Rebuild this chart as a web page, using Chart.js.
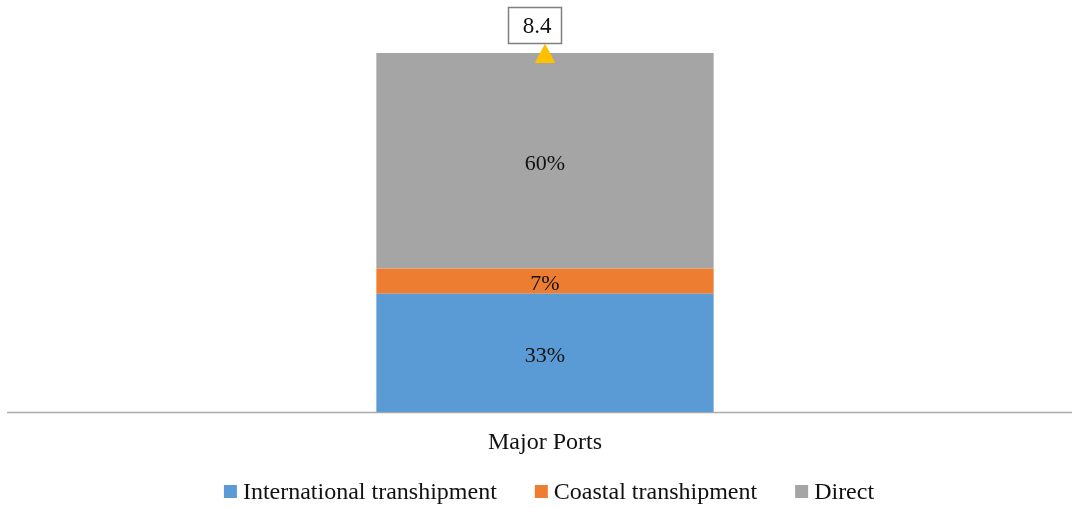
<!DOCTYPE html>
<html>
<head>
<meta charset="utf-8">
<script src="https://cdn.jsdelivr.net/npm/chart.js@4.4.1/dist/chart.umd.min.js"></script>
<style>
  html, body { margin: 0; padding: 0; background: #fff; }
  canvas { display: block; }
</style>
</head>
<body>
<canvas id="chart" width="1072" height="508"></canvas>
<script>
// data
const categories = ['Major Ports'];
const seriesNames = ['International transhipment', 'Coastal transhipment', 'Direct'];
const shares = [33, 7, 60];          // percent of total
const totalValue = [8.4];            // total shown above the bar
const seriesColors = ['#5B9BD5', '#ED7D31', '#A5A5A5'];

const FONT = '"Liberation Serif", "Times New Roman", serif';

// triangle marker whose bounding box is centred on the value (like Excel)
function triangleMarker(w, h, color) {
    const c = document.createElement('canvas');
    c.width = w; c.height = h;
    const g = c.getContext('2d');
    g.fillStyle = color;
    g.beginPath();
    g.moveTo(w / 2, 0);
    g.lineTo(w, h);
    g.lineTo(0, h);
    g.closePath();
    g.fill();
    return c;
}

// stacked segments in absolute units, labelled by share
const barSets = seriesNames.map((name, i) => ({
    type: 'bar',
    label: name,
    data: [shares[i] * totalValue[0] / 100],
    backgroundColor: seriesColors[i],
    borderWidth: 0,
    stack: 'main',
    share: shares[i],
    categoryPercentage: 1,
    barPercentage: 0.32
}));

const totalSet = {
    type: 'line',
    label: 'Total',
    data: totalValue,
    stack: 'total',
    order: -1,
    clip: false,
    showLine: false,
    pointStyle: triangleMarker(20, 19, '#FFC000'),
    pointRadius: 10
};

// axis line runs a bit further left than the plot area, as in the original
const baselinePlugin = {
    id: 'baseline',
    beforeDatasetsDraw(chart) {
        const ctx = chart.ctx;
        const y = Math.round(chart.scales.y.getPixelForValue(0)) + 0.5;
        ctx.save();
        ctx.strokeStyle = '#ABABAB';
        ctx.lineWidth = 1.5;
        ctx.beginPath();
        ctx.moveTo(7, y);
        ctx.lineTo(chart.chartArea.right, y);
        ctx.stroke();
        ctx.restore();
    }
};

// labels: percent in the middle of each segment, boxed total above the marker
const labelPlugin = {
    id: 'labels',
    afterDraw(chart) {
        const ctx = chart.ctx;
        ctx.save();
        ctx.font = '22px ' + FONT;
        ctx.fillStyle = '#111';
        ctx.textAlign = 'center';
        ctx.textBaseline = 'middle';
        barSets.forEach((ds, i) => {
            const meta = chart.getDatasetMeta(i);
            meta.data.forEach(el => {
                const mid = (el.y + el.base) / 2;
                ctx.fillText(ds.share + '%', el.x, mid + 3);
            });
        });
        const tMeta = chart.getDatasetMeta(barSets.length);
        tMeta.data.forEach((pt, j) => {
            const txt = String(totalValue[j]);
            ctx.font = '23px ' + FONT;
            const w = 53, h = 36;
            // label box sits slightly left of the marker in the original
            const x0 = Math.round(pt.x - 37) + 0.5, y0 = Math.round(pt.y - 10 - h) + 0.5;
            ctx.fillStyle = '#fff';
            ctx.fillRect(x0, y0, w, h);
            ctx.strokeStyle = '#7F7F7F';
            ctx.lineWidth = 1.5;
            ctx.strokeRect(x0, y0, w, h);
            ctx.fillStyle = '#111';
            ctx.fillText(txt, x0 + w / 2 + 2, y0 + h / 2 + 1);
        });

        // legend drawn by hand (tight box-to-text gap like the original)
        ctx.font = '24px ' + FONT;
        ctx.textAlign = 'left';
        const box = 13, gap = 6, spacing = 38, ly = 492;
        const widths = barSets.map(ds => box + gap + ctx.measureText(ds.label).width);
        const total = widths.reduce((a, b) => a + b, 0) + spacing * (widths.length - 1);
        let x = 549 - total / 2;
        barSets.forEach((ds, i) => {
            ctx.fillStyle = ds.backgroundColor;
            ctx.fillRect(x, ly - 7, box, box);
            ctx.fillStyle = '#111';
            ctx.fillText(ds.label, x + box + gap, ly + 1);
            x += widths[i] + spacing;
        });
        ctx.restore();
    }
};

new Chart(document.getElementById('chart'), {
    data: { labels: categories, datasets: [...barSets, totalSet] },
    options: {
        responsive: false,
        animation: false,
        layout: { autoPadding: false, padding: { top: 53, left: 18, right: 0, bottom: 43 } },
        scales: {
            x: {
                stacked: true,
                grid: { display: false },
                border: { display: false },
                ticks: { color: '#111', font: { family: FONT, size: 24 }, padding: 8 }
            },
            y: {
                stacked: true,
                display: false,
                min: 0,
                max: totalValue[0]
            }
        },
        plugins: {
            tooltip: { enabled: false },
            legend: { display: false }
        }
    },
    plugins: [baselinePlugin, labelPlugin]
});
</script>
</body>
</html>
